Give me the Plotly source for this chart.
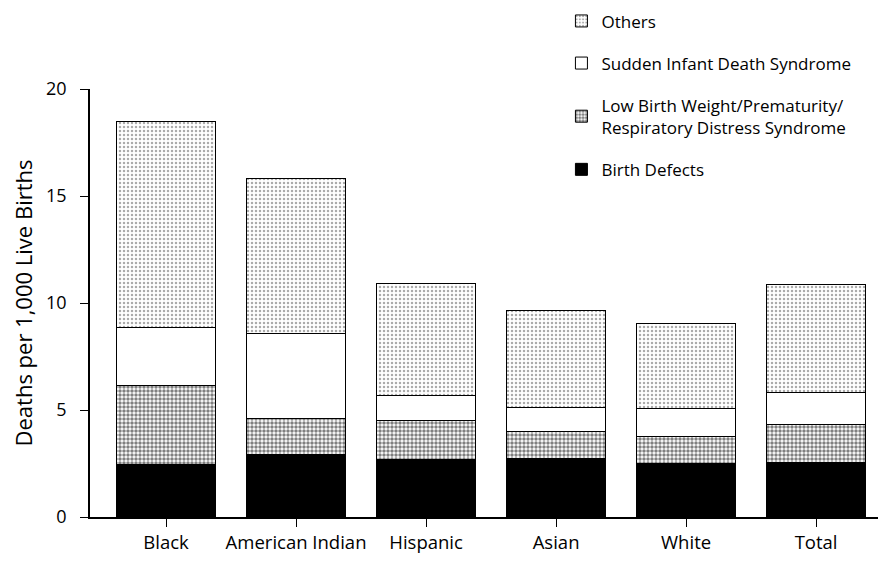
import plotly.graph_objects as go

categories = ["Black", "American Indian", "Hispanic", "Asian", "White", "Total"]
birth_defects = [2.44, 2.91, 2.67, 2.72, 2.49, 2.56]
low_birth_weight = [3.70, 1.71, 1.84, 1.29, 1.27, 1.76]
sids = [2.70, 3.94, 1.17, 1.12, 1.32, 1.51]
others = [9.64, 7.24, 5.25, 4.52, 3.98, 5.02]
y_ticks = [0, 5, 10, 15, 20]

FONT = "Open Sans"
line = dict(color="black", width=1)

fig = go.Figure()
fig.add_bar(x=categories, y=birth_defects, name="Birth Defects", legendgroup="a", legendrank=4,
            marker=dict(color="black", line=line))
fig.add_bar(x=categories, y=low_birth_weight,
            name="Low Birth Weight/Prematurity/<br>Respiratory Distress Syndrome", legendgroup="b",
            legendrank=3,
            marker=dict(color="white", line=line,
                        pattern=dict(shape=".", fgcolor="black", bgcolor="white", size=4, solidity=0.6)))
fig.add_bar(x=categories, y=sids, name="Sudden Infant Death Syndrome", legendgroup="c", legendrank=2,
            marker=dict(color="white", line=line))
fig.add_bar(x=categories, y=others, name="Others", legendgroup="d", legendrank=1,
            marker=dict(color="white", line=line,
                        pattern=dict(shape=".", fgcolor="#555", bgcolor="white", size=4, solidity=0.3)))

fig.update_layout(
    barmode="stack",
    bargap=0.24,
    width=878, height=553,
    margin=dict(l=82, r=1, t=81, b=44, autoexpand=False),
    paper_bgcolor="white", plot_bgcolor="white",
    font=dict(family=FONT, size=16, color="black"),
    legend=dict(x=0.593, y=1.2, xanchor="left", yanchor="top",
                traceorder="grouped", tracegroupgap=17,
                font=dict(size=17), bgcolor="rgba(0,0,0,0)"),
    xaxis=dict(range=[-0.585, 5.53], showline=True, linecolor="black", linewidth=1.5,
               ticks="outside", ticklen=8, tickcolor="black", showgrid=False,
               tickfont=dict(size=18.5), automargin=False),
    yaxis=dict(range=[0, 20], tickvals=y_ticks, showline=True, linecolor="black", linewidth=1.5,
               ticks="outside", ticklen=8, tickcolor="black", showgrid=False, zeroline=False,
               tickfont=dict(size=18), ticklabelstandoff=10, automargin=False,
               title=dict(text="Deaths per 1,000 Live Births", font=dict(size=22), standoff=8)),
)

fig.write_html("out.html")
